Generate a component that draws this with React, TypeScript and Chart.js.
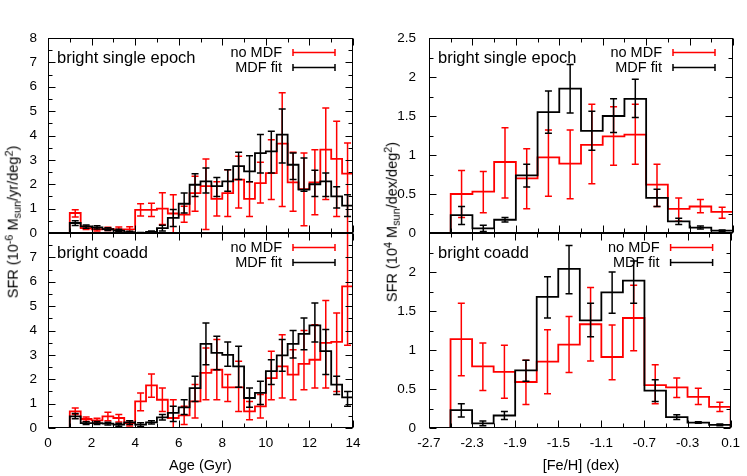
import React, { useEffect, useRef } from "react";
import { Chart, registerables } from "chart.js";

Chart.register(...registerables);

const W = 747;
const H = 476;
const FONT = '"Liberation Sans", Arial, Helvetica, sans-serif';
const RED = "#ff0000";
const BLACK = "#000000";

// ---------- bins ----------
const ageEdges = [1, 1.5, 2, 2.5, 3, 3.5, 4, 4.5, 5, 5.5, 6, 6.5, 7, 7.5, 8, 8.5, 9, 9.5, 10, 10.5, 11, 11.5, 12, 12.5, 13, 13.5, 14];
const ageCenters = [1.25, 1.75, 2.25, 2.75, 3.25, 3.75, 4.25, 4.75, 5.25, 5.75, 6.25, 6.75, 7.25, 7.75, 8.25, 8.75, 9.25, 9.75, 10.25, 10.75, 11.25, 11.75, 12.25, 12.75, 13.25, 13.75];
const feEdges = [-2.5, -2.3, -2.1, -1.9, -1.7, -1.5, -1.3, -1.1, -0.9, -0.7, -0.5, -0.3, -0.1, 0.1];
const feCenters = [-2.4, -2.2, -2.0, -1.8, -1.6, -1.4, -1.2, -1.0, -0.8, -0.6, -0.4, -0.2, 0.0];

// ---------- ticks ----------
const ageTicks = [0, 2, 4, 6, 8, 10, 12, 14];
const ageMinorTicks = [1, 3, 5, 7, 9, 11, 13];
const feTicks = [-2.7, -2.3, -1.9, -1.5, -1.1, -0.7, -0.3, 0.1];
const feMinorTicks = [-2.5, -2.1, -1.7, -1.3, -0.9, -0.5, -0.1];
const sfrAgeTicksTop = [0, 1, 2, 3, 4, 5, 6, 7, 8];
const sfrAgeTicksBottom = [0, 1, 2, 3, 4, 5, 6, 7];
const sfrAgeMinorTicks = [0.5, 1.5, 2.5, 3.5, 4.5, 5.5, 6.5, 7.5];
const sfrFeTicksTop = [0, 0.5, 1, 1.5, 2, 2.5];
const sfrFeTicksBottom = [0, 0.5, 1, 1.5, 2];
const sfrFeMinorTicks = [0.25, 0.75, 1.25, 1.75, 2.25];

// ---------- Age, bright single epoch ----------
const ageSingleNoMdf = [0.82, 0.2, 0.15, 0.17, 0.15, 0.15, 0.95, 0.95, 1.0, 0.8, 0.75, 1.64, 1.92, 1.4, 1.64, 2.19, 1.4, 2.05, 2.46, 3.67, 2.08, 1.8, 2.08, 3.42, 3.04, 2.44];
const ageSingleNoMdfLo = [0.66, 0.14, 0.08, 0.1, 0.05, 0.05, 0.7, 0.68, 0.35, 0.0, 0.44, 0.89, 0.14, 0.7, 0.68, 1.03, 0.68, 1.23, 1.37, 1.09, 0.89, 0.3, 0.75, 1.37, 0.68, -0.2];
const ageSingleNoMdfHi = [0.95, 0.28, 0.22, 0.24, 0.25, 0.26, 1.2, 1.22, 1.65, 1.57, 1.1, 2.33, 3.04, 2.1, 2.6, 3.15, 2.1, 2.9, 3.83, 5.75, 3.31, 3.28, 3.42, 5.13, 4.58, 3.69];
const ageSingleFit = [0.41, 0.27, 0.23, 0.16, 0.1, 0.04, 0.0, 0.05, 0.2, 0.62, 1.2, 1.98, 2.12, 1.92, 2.12, 2.74, 2.53, 3.28, 3.35, 4.04, 2.8, 1.78, 2.0, 2.12, 1.5, 1.12];
const ageSingleFitLo = [0.31, 0.2, 0.16, 0.1, 0.05, 0.01, 0.0, 0.02, 0.08, 0.27, 0.82, 1.5, 1.64, 1.5, 1.71, 2.19, 2.1, 2.46, 2.46, 2.87, 2.19, 1.71, 1.5, 1.5, 1.03, 0.68];
const ageSingleFitHi = [0.5, 0.33, 0.3, 0.22, 0.15, 0.07, 0.02, 0.08, 0.32, 0.96, 1.64, 2.43, 2.67, 2.28, 2.6, 3.31, 3.17, 4.04, 4.17, 5.09, 3.28, 3.08, 2.57, 2.46, 1.9, 1.57];

// ---------- Age, bright coadd ----------
const ageCoaddNoMdf = [0.68, 0.37, 0.31, 0.48, 0.41, 0.2, 1.09, 1.75, 1.16, 0.41, 0.52, 1.09, 2.26, 2.39, 1.67, 1.67, 0.68, 0.89, 2.05, 2.53, 2.19, 2.63, 2.8, 3.49, 3.53, 5.81];
const ageCoaddNoMdfLo = [0.55, 0.28, 0.22, 0.3, 0.25, 0.08, 0.71, 1.26, 0.68, 0.0, 0.14, 0.41, 1.16, 1.16, 1.09, 0.68, 0.34, 0.41, 1.16, 1.23, 1.16, 1.57, 1.64, 1.64, 1.5, 3.4];
const ageCoaddNoMdfHi = [0.82, 0.45, 0.4, 0.65, 0.55, 0.3, 1.44, 2.22, 1.64, 1.16, 0.89, 1.78, 3.28, 3.63, 2.19, 2.74, 1.09, 1.37, 3.15, 3.83, 3.21, 4.0, 4.24, 5.23, 4.72, 8.3];
const ageCoaddFit = [0.48, 0.2, 0.2, 0.18, 0.14, 0.23, 0.14, 0.23, 0.44, 0.62, 0.85, 1.64, 3.45, 3.08, 3.0, 2.53, 1.23, 1.44, 2.33, 2.98, 3.45, 3.86, 4.21, 3.15, 1.78, 1.26];
const ageCoaddFitLo = [0.38, 0.14, 0.14, 0.12, 0.07, 0.14, 0.06, 0.16, 0.33, 0.27, 0.55, 1.09, 2.6, 2.39, 2.53, 1.67, 0.85, 0.96, 1.78, 2.33, 2.87, 3.21, 3.53, 2.19, 1.37, 0.89];
const ageCoaddFitHi = [0.6, 0.26, 0.27, 0.24, 0.2, 0.3, 0.22, 0.3, 0.55, 0.89, 1.16, 2.12, 4.31, 3.76, 3.53, 3.35, 1.64, 1.92, 2.8, 3.63, 4.0, 4.51, 5.13, 4.04, 2.12, 1.5];

// ---------- [Fe/H], bright single epoch ----------
const feSingleNoMdf = [0.5, 0.53, 0.91, 0.7, 0.97, 0.89, 1.13, 1.24, 1.26, 0.62, 0.31, 0.34, 0.27];
const feSingleNoMdfLo = [0.2, 0.26, 0.45, 0.31, 0.47, 0.44, 0.63, 0.87, 0.88, 0.34, 0.15, 0.26, 0.19];
const feSingleNoMdfHi = [0.8, 0.79, 1.35, 1.08, 1.32, 1.32, 1.65, 1.62, 1.65, 0.88, 0.45, 0.43, 0.33];
const feSingleFit = [0.23, 0.06, 0.17, 0.74, 1.55, 1.85, 1.31, 1.5, 1.72, 0.45, 0.15, 0.07, 0.03];
const feSingleFitLo = [0.11, 0.02, 0.14, 0.59, 1.28, 1.54, 1.06, 1.29, 1.48, 0.34, 0.11, 0.05, 0.02];
const feSingleFitHi = [0.34, 0.1, 0.2, 0.88, 1.82, 2.16, 1.56, 1.72, 1.97, 0.56, 0.19, 0.09, 0.04];

// ---------- [Fe/H], bright coadd ----------
const feCoaddNoMdf = [1.14, 0.79, 0.72, 0.59, 0.85, 1.07, 1.33, 0.91, 1.41, 0.55, 0.52, 0.4, 0.27];
const feCoaddNoMdfLo = [0.67, 0.48, 0.38, 0.3, 0.44, 0.71, 0.86, 0.62, 0.99, 0.31, 0.39, 0.3, 0.21];
const feCoaddNoMdfHi = [1.6, 1.09, 1.06, 0.87, 1.26, 1.43, 1.8, 1.32, 1.83, 0.81, 0.64, 0.51, 0.33];
const feCoaddFit = [0.23, 0.06, 0.16, 0.74, 1.68, 2.04, 1.38, 1.74, 1.89, 0.48, 0.14, 0.07, 0.04];
const feCoaddFitLo = [0.14, 0.03, 0.11, 0.6, 1.41, 1.72, 1.17, 1.47, 1.6, 0.34, 0.11, 0.06, 0.03];
const feCoaddFitHi = [0.31, 0.09, 0.21, 0.87, 1.94, 2.34, 1.6, 2.0, 2.14, 0.62, 0.17, 0.08, 0.05];

const legendLabels = ["no MDF", "MDF fit"];

type Area = { left: number; top: number; right: number; bottom: number };
type PanelCfg = {
  label: string;
  area: Area;
  padLeft: number;
  edges: number[];
  centers: number[];
  red: number[];
  redLo: number[];
  redHi: number[];
  blk: number[];
  blkLo: number[];
  blkHi: number[];
  xMin: number;
  xMax: number;
  yMax: number;
  xTicks: number[];
  xMinor: number[];
  yTicks: number[];
  yTickMarks: number[];
  yMinor: number[];
  showX: boolean;
  labelPad: number;
};

const LEFT_X = 48;
const LEFT_R = 353;
const RIGHT_X = 429;
const RIGHT_R = 733;
const TOP_Y = 38;
const MID_Y = 233;
const BOT_Y = 428;

const panels: PanelCfg[] = [
  {
    label: "bright single epoch",
    area: { left: LEFT_X, top: TOP_Y, right: LEFT_R, bottom: MID_Y },
    padLeft: 0,
    edges: ageEdges, centers: ageCenters,
    red: ageSingleNoMdf, redLo: ageSingleNoMdfLo, redHi: ageSingleNoMdfHi,
    blk: ageSingleFit, blkLo: ageSingleFitLo, blkHi: ageSingleFitHi,
    xMin: 0, xMax: 14, yMax: 8,
    xTicks: ageTicks, xMinor: ageMinorTicks,
    yTicks: sfrAgeTicksTop, yTickMarks: sfrAgeTicksTop, yMinor: sfrAgeMinorTicks,
    showX: false, labelPad: 11,
  },
  {
    label: "bright coadd",
    area: { left: LEFT_X, top: MID_Y, right: LEFT_R, bottom: BOT_Y },
    padLeft: 0,
    edges: ageEdges, centers: ageCenters,
    red: ageCoaddNoMdf, redLo: ageCoaddNoMdfLo, redHi: ageCoaddNoMdfHi,
    blk: ageCoaddFit, blkLo: ageCoaddFitLo, blkHi: ageCoaddFitHi,
    xMin: 0, xMax: 14, yMax: 8,
    xTicks: ageTicks, xMinor: ageMinorTicks,
    yTicks: sfrAgeTicksBottom, yTickMarks: sfrAgeTicksTop, yMinor: sfrAgeMinorTicks,
    showX: true, labelPad: 11,
  },
  {
    label: "bright single epoch",
    area: { left: RIGHT_X, top: TOP_Y, right: RIGHT_R, bottom: MID_Y },
    padLeft: 360,
    edges: feEdges, centers: feCenters,
    red: feSingleNoMdf, redLo: feSingleNoMdfLo, redHi: feSingleNoMdfHi,
    blk: feSingleFit, blkLo: feSingleFitLo, blkHi: feSingleFitHi,
    xMin: -2.7, xMax: 0.1, yMax: 2.5,
    xTicks: feTicks, xMinor: feMinorTicks,
    yTicks: sfrFeTicksTop, yTickMarks: sfrFeTicksTop, yMinor: sfrFeMinorTicks,
    showX: false, labelPad: 13,
  },
  {
    label: "bright coadd",
    area: { left: RIGHT_X, top: MID_Y, right: RIGHT_R, bottom: BOT_Y },
    padLeft: 360,
    edges: feEdges, centers: feCenters,
    red: feCoaddNoMdf, redLo: feCoaddNoMdfLo, redHi: feCoaddNoMdfHi,
    blk: feCoaddFit, blkLo: feCoaddFitLo, blkHi: feCoaddFitHi,
    xMin: -2.7, xMax: 0.1, yMax: 2.5,
    xTicks: feTicks, xMinor: feMinorTicks,
    yTicks: sfrFeTicksBottom, yTickMarks: sfrFeTicksTop, yMinor: sfrFeMinorTicks,
    showX: true, labelPad: 13,
  },
];

// histogram outline: rise from 0 at the first edge, hold each bin's value
// across its bin, and drop back to 0 at the last edge
function stepPoints(edges: number[], vals: number[]) {
  const pts: { x: number; y: number }[] = [{ x: edges[0], y: 0 }];
  vals.forEach((v, i) => pts.push({ x: edges[i + 1], y: v }));
  pts.push({ x: edges[edges.length - 1], y: 0 });
  return pts;
}

const CAP = 3.5;

function makeDecor(p: PanelCfg) {
  const errSets = [
    { color: RED, lo: p.redLo, hi: p.redHi },
    { color: BLACK, lo: p.blkLo, hi: p.blkHi },
  ];
  return {
    id: "decor",
    afterDatasetDraw(chart: any, args: any) {
      const s = errSets[args.index];
      if (!s) return;
      const { ctx, chartArea: a } = chart;
      const xs = chart.scales.x;
      const ys = chart.scales.y;
      ctx.save();
      ctx.beginPath();
      ctx.rect(a.left, a.top, a.right - a.left, a.bottom - a.top);
      ctx.clip();
      ctx.strokeStyle = s.color;
      ctx.lineWidth = 1.5;
      p.centers.forEach((c, i) => {
        const x = xs.getPixelForValue(c);
        const y1 = ys.getPixelForValue(s.lo[i]);
        const y2 = ys.getPixelForValue(s.hi[i]);
        ctx.beginPath();
        ctx.moveTo(x, y1);
        ctx.lineTo(x, y2);
        ctx.moveTo(x - CAP, y1);
        ctx.lineTo(x + CAP, y1);
        ctx.moveTo(x - CAP, y2);
        ctx.lineTo(x + CAP, y2);
        ctx.stroke();
      });
      ctx.restore();
    },
    afterDraw(chart: any) {
      const { ctx, chartArea: a } = chart;
      const xs = chart.scales.x;
      const ys = chart.scales.y;
      const L = Math.round(a.left) + 0.5;
      const R = Math.round(a.right) - 0.5;
      const T = Math.round(a.top) + 0.5;
      const B = Math.round(a.bottom) - 0.5;
      ctx.save();
      ctx.strokeStyle = BLACK;
      ctx.lineWidth = 1;
      ctx.strokeRect(L, T, R - L, B - T);
      const MAJ = 7;
      const MIN = 4;
      ctx.beginPath();
      const xTick = (v: number, len: number) => {
        const x = Math.round(xs.getPixelForValue(v)) + 0.5;
        ctx.moveTo(x, B);
        ctx.lineTo(x, B - len);
        ctx.moveTo(x, T);
        ctx.lineTo(x, T + len);
      };
      const yTick = (v: number, len: number) => {
        const y = Math.round(ys.getPixelForValue(v)) + 0.5;
        ctx.moveTo(L, y);
        ctx.lineTo(L + len, y);
        ctx.moveTo(R, y);
        ctx.lineTo(R - len, y);
      };
      p.xTicks.forEach((v) => xTick(v, MAJ));
      p.xMinor.forEach((v) => xTick(v, MIN));
      p.yTickMarks.forEach((v) => yTick(v, MAJ));
      p.yMinor.forEach((v) => yTick(v, MIN));
      ctx.stroke();

      // panel label
      ctx.fillStyle = BLACK;
      ctx.font = `16.5px ${FONT}`;
      ctx.textAlign = "left";
      ctx.textBaseline = "middle";
      ctx.fillText(p.label, a.left + 9, a.top + 20);

      // legend
      const colors = [RED, BLACK];
      const rows = [a.top + 14, a.top + 29];
      ctx.font = `14.5px ${FONT}`;
      ctx.textAlign = "right";
      legendLabels.forEach((lab, i) => {
        const y = rows[i];
        ctx.fillStyle = BLACK;
        ctx.fillText(lab, a.right - 71, y + 0.5);
        ctx.strokeStyle = colors[i];
        ctx.lineWidth = 1.5;
        const x1 = a.right - 60;
        const x2 = a.right - 18;
        const yy = Math.round(y) + 0.5;
        ctx.beginPath();
        ctx.moveTo(x1, yy);
        ctx.lineTo(x2, yy);
        ctx.moveTo(x1, yy - 3.5);
        ctx.lineTo(x1, yy + 3.5);
        ctx.moveTo(x2, yy - 3.5);
        ctx.lineTo(x2, yy + 3.5);
        ctx.stroke();
      });
      ctx.restore();
    },
  };
}

function Panel({ p }: { p: PanelCfg }) {
  const ref = useRef<HTMLCanvasElement | null>(null);
  useEffect(() => {
    if (!ref.current) return;
    const xAxisH = p.showX ? H - p.area.bottom : 0;
    const chart = new Chart(ref.current, {
      type: "line",
      data: {
        datasets: [
          {
            label: legendLabels[0],
            data: stepPoints(p.edges, p.red),
            borderColor: RED,
            borderWidth: 1.8,
            stepped: "after",
            pointRadius: 0,
            fill: false,
            order: 1,
          },
          {
            label: legendLabels[1],
            data: stepPoints(p.edges, p.blk),
            borderColor: BLACK,
            borderWidth: 1.8,
            stepped: "after",
            pointRadius: 0,
            fill: false,
            order: 0,
          },
        ],
      },
      options: {
        responsive: false,
        maintainAspectRatio: false,
        animation: false,
        devicePixelRatio: 1,
        layout: {
          padding: {
            left: p.padLeft,
            top: p.area.top,
            right: W - p.area.right,
            bottom: H - p.area.bottom - xAxisH,
          },
        },
        plugins: {
          legend: { display: false },
          tooltip: { enabled: false },
        },
        scales: {
          x: {
            type: "linear",
            min: p.xMin,
            max: p.xMax,
            grid: { display: false, drawTicks: false },
            border: { display: false },
            afterBuildTicks: (s: any) => {
              s.ticks = p.xTicks.map((v) => ({ value: v }));
            },
            afterFit: (s: any) => {
              s.height = xAxisH;
            },
            ticks: {
              display: p.showX,
              autoSkip: false,
              maxRotation: 0,
              padding: 7,
              color: BLACK,
              font: { family: FONT, size: 13.5 },
              callback: (v: any) => String(v),
            },
          },
          y: {
            type: "linear",
            min: 0,
            max: p.yMax,
            grid: { display: false, drawTicks: false },
            border: { display: false },
            afterBuildTicks: (s: any) => {
              s.ticks = p.yTicks.map((v) => ({ value: v }));
            },
            afterFit: (s: any) => {
              s.width = p.area.left - p.padLeft;
            },
            ticks: {
              autoSkip: false,
              padding: p.labelPad,
              color: BLACK,
              font: { family: FONT, size: 13.5 },
              callback: (v: any) => String(v),
            },
          },
        },
      },
      plugins: [makeDecor(p)],
    } as any);
    return () => chart.destroy();
  }, [p]);
  return (
    <canvas
      ref={ref}
      width={W}
      height={H}
      style={{ position: "absolute", left: 0, top: 0, width: W, height: H }}
    />
  );
}

const titleStyle: React.CSSProperties = {
  position: "absolute",
  fontFamily: FONT,
  fontSize: 14.5,
  lineHeight: 1,
  whiteSpace: "nowrap",
  color: "#000",
};
const supStyle: React.CSSProperties = { fontSize: "0.75em", verticalAlign: "0.45em", lineHeight: 0 };
const subStyle: React.CSSProperties = { fontSize: "0.75em", verticalAlign: "-0.25em", lineHeight: 0 };

export default function App() {
  return (
    <div
      style={{
        position: "absolute",
        left: 0,
        top: 0,
        width: W,
        height: H,
        background: "#fff",
        overflow: "hidden",
      }}
    >
      {panels.map((p, i) => (
        <Panel key={i} p={p} />
      ))}
      <div
        style={{
          ...titleStyle,
          left: 13,
          top: 222,
          transform: "translate(-50%, -50%) rotate(-90deg)",
        }}
      >
        SFR (10<span style={supStyle}>-6</span> M<span style={subStyle}>sun</span>/yr/deg
        <span style={supStyle}>2</span>)
      </div>
      <div
        style={{
          ...titleStyle,
          left: 392,
          top: 222,
          transform: "translate(-50%, -50%) rotate(-90deg)",
        }}
      >
        SFR (10<span style={supStyle}>4</span> M<span style={subStyle}>sun</span>/dex/deg
        <span style={supStyle}>2</span>)
      </div>
      <div style={{ ...titleStyle, left: (LEFT_X + LEFT_R) / 2, top: 465, transform: "translate(-50%, -50%)" }}>
        Age (Gyr)
      </div>
      <div style={{ ...titleStyle, left: (RIGHT_X + RIGHT_R) / 2, top: 465, transform: "translate(-50%, -50%)" }}>
        [Fe/H] (dex)
      </div>
    </div>
  );
}
